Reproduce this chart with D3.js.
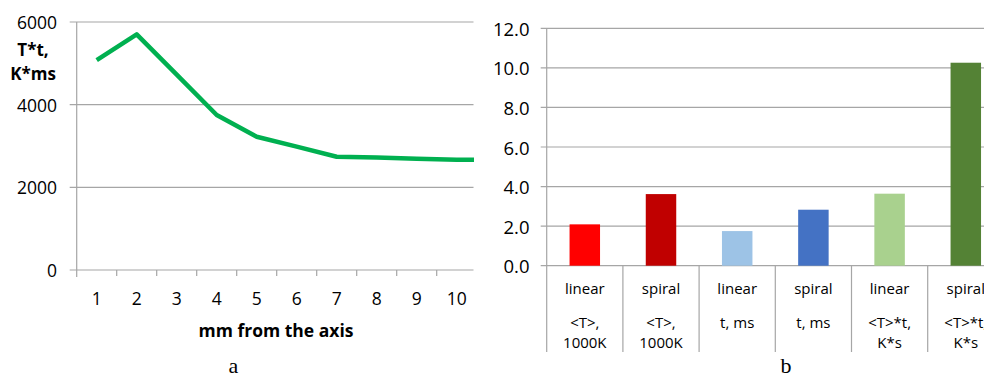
<!DOCTYPE html>
<html>
<head>
<meta charset="utf-8">
<script src="https://cdn.jsdelivr.net/npm/d3@7"></script>
<style>
  html, body { margin: 0; padding: 0; background: #fff; }
  svg { display: block; }
  text { font-family: "Open Sans", "Noto Sans", sans-serif; fill: #000; }
</style>
</head>
<body>
<svg id="chart" width="984" height="378"></svg>
<script>
// Panel a: product T*t versus distance from the axis
const distances = ["1", "2", "3", "4", "5", "6", "7", "8", "9", "10", "11"];
const productTt = [5080, 5700, 4725, 3750, 3225, 2985, 2740, 2720, 2690, 2670, 2665];
const leftTicks = [0, 2000, 4000, 6000];

// Panel b: linear vs spiral comparison
const barLabels = [
  ["linear", "<T>,", "1000K"],
  ["spiral", "<T>,", "1000K"],
  ["linear", "t, ms"],
  ["spiral", "t, ms"],
  ["linear", "<T>*t,", "K*s"],
  ["spiral", "<T>*t,", "K*s"]
];
const barValues = [2.09, 3.62, 1.75, 2.83, 3.64, 10.26];
const barColors = ["#ff0000", "#c00000", "#9dc3e6", "#4472c4", "#a9d18e", "#548235"];
const rightTicks = [0, 2, 4, 6, 8, 10, 12];

const gridColor = "#a6a6a6";
const svg = d3.select("#chart");

// ---------- Panel a ----------
const a = { left: 76.7, right: 473.5, top: 22, bottom: 270, step: 40 };
svg.append("defs").append("clipPath").attr("id", "clipA")
  .append("rect").attr("x", 0).attr("y", 0).attr("width", a.right + 0.5).attr("height", 378);

const gA = svg.append("g").attr("clip-path", "url(#clipA)");
const xA = d3.scaleBand().domain(distances)
  .range([a.left, a.left + a.step * distances.length]).padding(0);
const yA = d3.scaleLinear().domain([0, 6000]).range([a.bottom, a.top]);

gA.selectAll("line.grid").data(leftTicks).join("line")
  .attr("x1", a.left - 7).attr("x2", a.right)
  .attr("y1", d => yA(d)).attr("y2", d => yA(d))
  .attr("stroke", gridColor).attr("stroke-width", 1.2);

gA.append("line")
  .attr("x1", a.left).attr("x2", a.left)
  .attr("y1", yA(6000)).attr("y2", a.bottom + 7)
  .attr("stroke", gridColor).attr("stroke-width", 1.2);

gA.selectAll("line.tick").data(distances.slice(1)).join("line")
  .attr("x1", d => xA(d)).attr("x2", d => xA(d))
  .attr("y1", a.bottom).attr("y2", a.bottom + 6)
  .attr("stroke", gridColor).attr("stroke-width", 1.2);

gA.selectAll("text.ylab").data(leftTicks).join("text")
  .attr("x", 57).attr("y", d => yA(d))
  .attr("text-anchor", "end").attr("dominant-baseline", "central")
  .style("font-size", "17.5px").text(d => d);

gA.selectAll("text.xlab").data(distances).join("text")
  .attr("x", d => xA(d) + xA.bandwidth() / 2).attr("y", 304.5)
  .attr("text-anchor", "middle")
  .style("font-size", "17.5px").text(d => d);

const line = d3.line()
  .x((d, i) => xA(distances[i]) + xA.bandwidth() / 2)
  .y(d => yA(d));
gA.append("path").datum(productTt)
  .attr("d", line).attr("fill", "none")
  .attr("stroke", "#00b050").attr("stroke-width", 4.5)
  .attr("stroke-linejoin", "round");

svg.append("text").attr("x", 33).attr("y", 55.5).attr("text-anchor", "middle")
  .style("font-size", "17px").style("font-weight", "bold").text("T*t,");
svg.append("text").attr("x", 33).attr("y", 80).attr("text-anchor", "middle")
  .style("font-size", "17px").style("font-weight", "bold").text("K*ms");

svg.append("text").attr("x", 276).attr("y", 336.5).attr("text-anchor", "middle")
  .style("font-size", "17.5px").style("font-weight", "bold").text("mm from the axis");

svg.append("text").attr("x", 233.5).attr("y", 373).attr("text-anchor", "middle")
  .style("font-family", "'Liberation Serif', 'DejaVu Serif', serif")
  .style("font-size", "22px").text("a");

// ---------- Panel b ----------
const b = { left: 546.7, top: 28.3, bottom: 265.7, step: 76.2, sepBottom: 352 };
const xB = d3.scaleBand().domain(d3.range(barValues.length))
  .range([b.left, b.left + b.step * barValues.length])
  .paddingInner(0.6).paddingOuter(0.3);
const yB = d3.scaleLinear().domain([0, 12]).range([b.bottom, b.top]);
const bRight = b.left + b.step * barValues.length;

svg.selectAll("line.gridB").data(rightTicks).join("line")
  .attr("x1", b.left - 6).attr("x2", bRight)
  .attr("y1", d => yB(d)).attr("y2", d => yB(d))
  .attr("stroke", gridColor).attr("stroke-width", 1.2);

svg.selectAll("line.sep").data(d3.range(barValues.length + 1)).join("line")
  .attr("x1", i => b.left + i * xB.step()).attr("x2", i => b.left + i * xB.step())
  .attr("y1", i => i === 0 ? yB(12) : b.bottom).attr("y2", b.sepBottom)
  .attr("stroke", gridColor).attr("stroke-width", 1.2);

svg.selectAll("rect.bar").data(barValues).join("rect")
  .attr("x", (d, i) => xB(i)).attr("width", xB.bandwidth())
  .attr("y", d => yB(d)).attr("height", d => yB(0) - yB(d))
  .attr("fill", (d, i) => barColors[i]);

svg.selectAll("text.ylabB").data(rightTicks).join("text")
  .attr("x", 529.5).attr("y", d => yB(d))
  .attr("text-anchor", "end").attr("dominant-baseline", "central")
  .style("font-size", "18.5px").text(d => d3.format(".1f")(d));

const lineY = [288, 322, 342];
const catG = svg.selectAll("g.cat").data(barLabels).join("g")
  .attr("transform", (d, i) => `translate(${xB(i) + xB.bandwidth() / 2},0)`);
catG.selectAll("text").data(d => d).join("text")
  .attr("x", 0).attr("y", (d, j) => lineY[j])
  .attr("text-anchor", "middle").attr("dominant-baseline", "central")
  .style("font-size", "15px").text(d => d);

svg.append("text").attr("x", 786).attr("y", 373).attr("text-anchor", "middle")
  .style("font-family", "'Liberation Serif', 'DejaVu Serif', serif")
  .style("font-size", "22px").text("b");
</script>
</body>
</html>
